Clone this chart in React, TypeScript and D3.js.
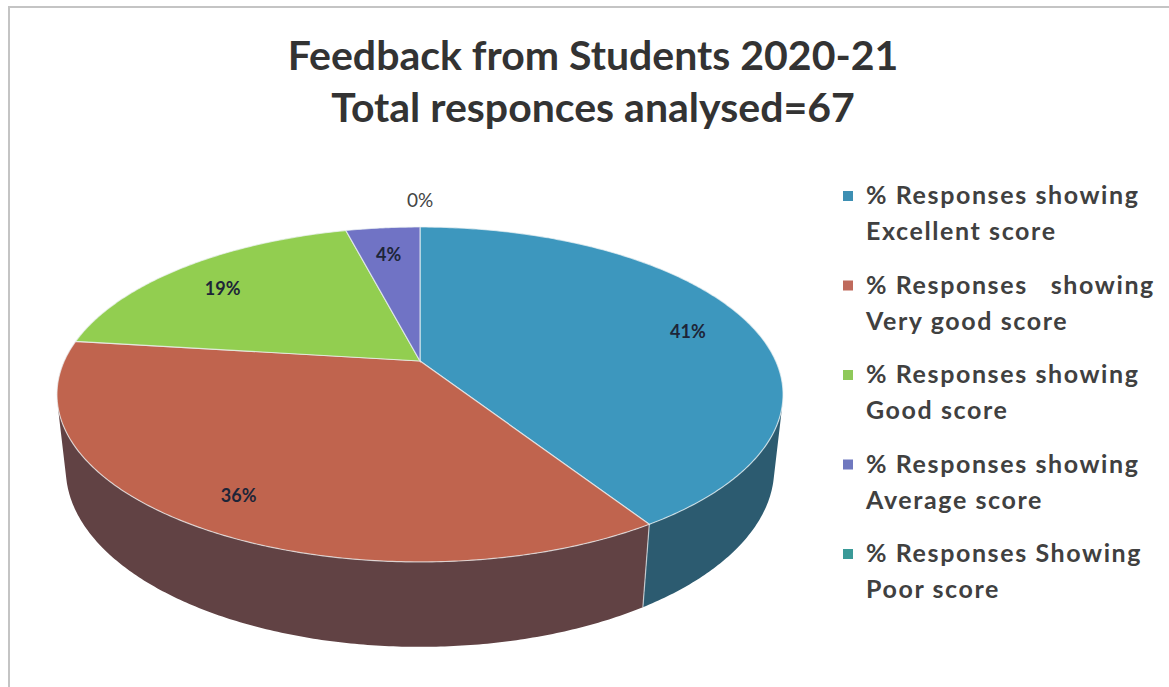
import React from "react";
import * as d3 from "d3";

const legendLine1 = [
  "% Responses showing",
  "% Responses   showing",
  "% Responses showing",
  "% Responses showing",
  "% Responses Showing",
];
const legendLine2 = [
  "Excellent score",
  "Very good score",
  "Good score",
  "Average score",
  "Poor score",
];
const values = [41, 36, 19, 4, 0];
const valueLabels = ["41%", "36%", "19%", "4%", "0%"];
const titleLines = ["Feedback from Students 2020-21", "Total responces analysed=67"];

const topColors = ["#3d97be", "#c0644e", "#92ce50", "#7073c5", "#3a9e9a"];
const sideColors = ["#2c5b70", "#614244", "#5a7d31", "#44467a", "#245f5d"];
const legendColors = ["#3d8fb3", "#bf6a5c", "#8fc95a", "#6f78bf", "#3a9a98"];

const W = 1169;
const H = 687;
// 3D projection (perspective) parameters
const cx0 = 420;
const cy0 = 361;
const R = 0.224; // pie radius relative to camera distance 1
const phi = Math.asin(0.452); // camera elevation
const F = 1588; // focal scale
const hgt = 0.0528; // pie thickness
const FONT = "Lato, 'Open Sans', sans-serif";

function project(x: number, y: number, z: number): [number, number] {
  const depth = 1 - y * Math.sin(phi) + z * Math.cos(phi);
  const up = y * Math.cos(phi) + z * Math.sin(phi);
  return [cx0 + (F * x) / depth, cy0 - (F * up) / depth];
}
function pt(a: number, rho = 1, y = 0): [number, number] {
  return project(R * rho * Math.sin(a), y, R * rho * Math.cos(a));
}
function arcPts(a0: number, a1: number, y = 0): [number, number][] {
  const n = Math.max(2, Math.ceil(Math.abs(a1 - a0) / 0.01));
  const out: [number, number][] = [];
  for (let i = 0; i <= n; i++) out.push(pt(a0 + ((a1 - a0) * i) / n, 1, y));
  return out;
}

export default function App() {
  const pie = d3.pie<number>().sort(null).value((d) => d)(values);
  const line = d3.line().curve(d3.curveLinear);
  // visible range of the cylinder wall: cos a < -R / cos(phi)
  const aVis = Math.acos(-R / Math.cos(phi));
  const visLo = aVis;
  const visHi = 2 * Math.PI - aVis;

  const sides = pie
    .map((s, i) => {
      const a0 = Math.max(s.startAngle, visLo);
      const a1 = Math.min(s.endAngle, visHi);
      if (a1 <= a0) return null;
      const pts = [...arcPts(a0, a1), ...arcPts(a1, a0, -hgt)];
      return { d: line(pts) + "Z", i };
    })
    .filter(Boolean) as { d: string; i: number }[];

  const sideEdges = pie
    .filter((s) => s.endAngle > s.startAngle && s.endAngle > visLo && s.endAngle < visHi)
    .map((s) => {
      const p0 = pt(s.endAngle, 1, 0);
      const p1 = pt(s.endAngle, 1, -hgt);
      return { p0, p1, i: s.index };
    });

  const tops = pie
    .filter((s) => s.endAngle > s.startAngle)
    .map((s) => {
      const pts: [number, number][] = [project(0, 0, 0), ...arcPts(s.startAngle, s.endAngle)];
      return { d: line(pts) + "Z", i: s.index };
    });

  const labels = pie.map((s, i) => {
    const mid = (s.startAngle + s.endAngle) / 2;
    const zero = s.value === 0;
    const [x, y] = pt(mid, zero ? 1.25 : 0.82);
    return { x, y: zero ? y : y + 6, text: valueLabels[i], zero };
  });

  return (
    <svg
      width={W}
      height={H}
      style={{ position: "absolute", left: 0, top: 0, background: "#fff" }}
      fontFamily={FONT}
    >
      <rect x={0} y={0} width={W} height={H} fill="#fff" />
      <line x1={8} y1={7} x2={W} y2={7} stroke="#c4c4c4" strokeWidth={2} />
      <line x1={9} y1={7} x2={9} y2={H} stroke="#c4c4c4" strokeWidth={2} />

      {titleLines.map((t, i) => (
        <text
          key={i}
          x={593}
          y={70 + i * 52}
          textAnchor="middle"
          fontSize={41}
          fontWeight="bold"
          fill="#333"
        >
          {t}
        </text>
      ))}

      {sides.map((s) => (
        <path key={"s" + s.i} d={s.d} fill={sideColors[s.i]} />
      ))}
      {sideEdges.map((e) => (
        <line
          key={"e" + e.i}
          x1={e.p0[0]}
          y1={e.p0[1]}
          x2={e.p1[0]}
          y2={e.p1[1]}
          stroke="#e6eef2"
          strokeOpacity={0.7}
          strokeWidth={1.2}
        />
      ))}
      {tops.map((s) => (
        <path key={"t" + s.i} d={s.d} fill={topColors[s.i]} stroke="#eef3f5" strokeOpacity={0.7} strokeWidth={1.2} />
      ))}

      {labels.map((l, i) => (
        <text
          key={"l" + i}
          x={l.x}
          y={l.y}
          dy="0.35em"
          textAnchor="middle"
          fontSize={l.zero ? 19 : 18}
          fontWeight={l.zero ? "normal" : "bold"}
          fill={l.zero ? "#444" : "#1d2538"}
        >
          {l.text}
        </text>
      ))}

      {legendLine1.map((t, i) => (
        <g key={"g" + i} transform={`translate(0, ${i * 89.5})`}>
          <rect x={843} y={191} width={10} height={10} fill={legendColors[i]} />
          <text x={866} y={204} fontSize={25} fontWeight="bold" letterSpacing={1.6} fill="#404040" style={{ whiteSpace: "pre" }}>
            {t}
          </text>
          <text x={866} y={240} fontSize={25} fontWeight="bold" letterSpacing={1.6} fill="#404040">
            {legendLine2[i]}
          </text>
        </g>
      ))}
    </svg>
  );
}
